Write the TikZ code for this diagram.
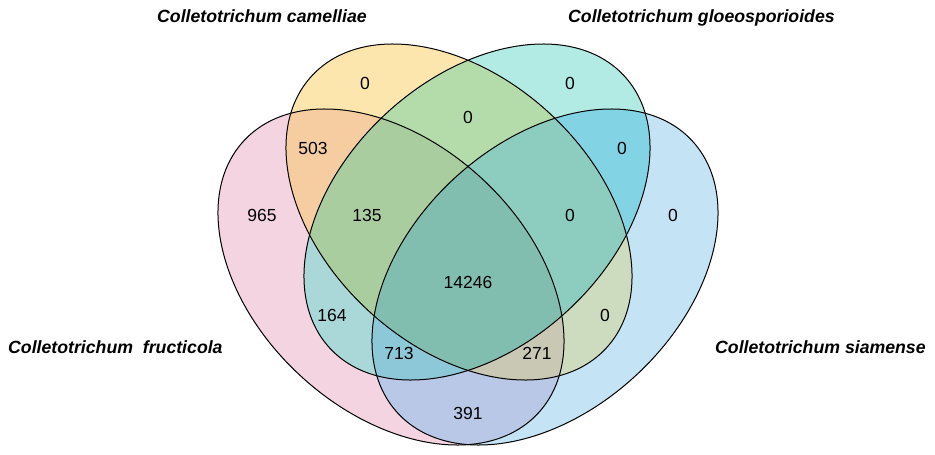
\documentclass[tikz,border=0pt]{standalone}
\usepackage{fontspec}
\setmainfont{Liberation Sans}
\definecolor{cP}{RGB}{244,212,225}
\definecolor{cY}{RGB}{253,230,173}
\definecolor{cT}{RGB}{178,234,228}
\definecolor{cB}{RGB}{196,228,246}
\definecolor{cPY}{RGB}{245,205,160}
\definecolor{cPT}{RGB}{170,215,215}
\definecolor{cPB}{RGB}{185,200,230}
\definecolor{cYT}{RGB}{180,220,170}
\definecolor{cYB}{RGB}{205,220,190}
\definecolor{cTB}{RGB}{130,212,228}
\definecolor{cPYT}{RGB}{170,205,160}
\definecolor{cPYB}{RGB}{200,200,180}
\definecolor{cPTB}{RGB}{140,200,215}
\definecolor{cYTB}{RGB}{140,205,192}
\definecolor{cPYTB}{RGB}{130,190,175}
\begin{document}
\begin{tikzpicture}[x=1pt,y=-1pt,
  eP/.style={rotate around={-42.8:(391,277)}, insert path={(391,277) ellipse [x radius=200.5pt, y radius=134pt]}},
  eY/.style={rotate around={-42.8:(459,212)}, insert path={(459,212) ellipse [x radius=200.5pt, y radius=134pt]}},
  eT/.style={rotate around={42.8:(477,212)}, insert path={(477,212) ellipse [x radius=200.5pt, y radius=134pt]}},
  eB/.style={rotate around={42.8:(545,277)}, insert path={(545,277) ellipse [x radius=200.5pt, y radius=134pt]}},
  outline/.style={draw=black, line width=1pt},
  num/.style={inner sep=0pt, font=\fontsize{17.5}{20}\selectfont},
  lab/.style={inner sep=0pt, font=\fontsize{17.7}{21}\selectfont\bfseries\itshape}]
\useasboundingbox (0,0) rectangle (935,455);
\fill[white] (0,0) rectangle (935,455);
% single sets
\fill[fill=cP, eP];
\fill[fill=cY, eY];
\fill[fill=cT, eT];
\fill[fill=cB, eB];
% pairs
\begin{scope}\clip[eP]; \fill[fill=cPY, eY];\end{scope}
\begin{scope}\clip[eP]; \fill[fill=cPT, eT];\end{scope}
\begin{scope}\clip[eP]; \fill[fill=cPB, eB];\end{scope}
\begin{scope}\clip[eY]; \fill[fill=cYT, eT];\end{scope}
\begin{scope}\clip[eY]; \fill[fill=cYB, eB];\end{scope}
\begin{scope}\clip[eT]; \fill[fill=cTB, eB];\end{scope}
% triples
\begin{scope}\clip[eP]; \clip[eY]; \fill[fill=cPYT, eT];\end{scope}
\begin{scope}\clip[eP]; \clip[eY]; \fill[fill=cPYB, eB];\end{scope}
\begin{scope}\clip[eP]; \clip[eT]; \fill[fill=cPTB, eB];\end{scope}
\begin{scope}\clip[eY]; \clip[eT]; \fill[fill=cYTB, eB];\end{scope}
% all four
\begin{scope}\clip[eP]; \clip[eY]; \clip[eT]; \fill[fill=cPYTB, eB];\end{scope}
% outlines
\path[outline, eP];
\path[outline, eY];
\path[outline, eT];
\path[outline, eB];
% counts
\node[num] (nY)    at (365,83)  {0};
\node[num] (nT)    at (570,83)  {0};
\node[num] (nYT)   at (468,117) {0};
\node[num] (nPY)   at (313,148) {503};
\node[num] (nTB)   at (622,148) {0};
\node[num] (nP)    at (262,215) {965};
\node[num] (nPYT)  at (367,215) {135};
\node[num] (nYTB)  at (570,215) {0};
\node[num] (nB)    at (673,215) {0};
\node[num] (nAll)  at (468,282) {14246};
\node[num] (nPT)   at (332,315) {164};
\node[num] (nYB)   at (605,315) {0};
\node[num] (nPTB)  at (399,353) {713};
\node[num] (nPYB)  at (537,353) {271};
\node[num] (nPB)   at (468,413) {391};
% labels
\node[lab, anchor=base west] (lCam) at (157,22)  {Colletotrichum camelliae};
\node[lab, anchor=base west] (lGlo) at (568,22)  {Colletotrichum gloeosporioides};
\node[lab, anchor=base west] (lFru) at (8,353)   {Colletotrichum\ \ fructicola};
\node[lab, anchor=base west] (lSia) at (715,353) {Colletotrichum siamense};
\end{tikzpicture}
\end{document}
